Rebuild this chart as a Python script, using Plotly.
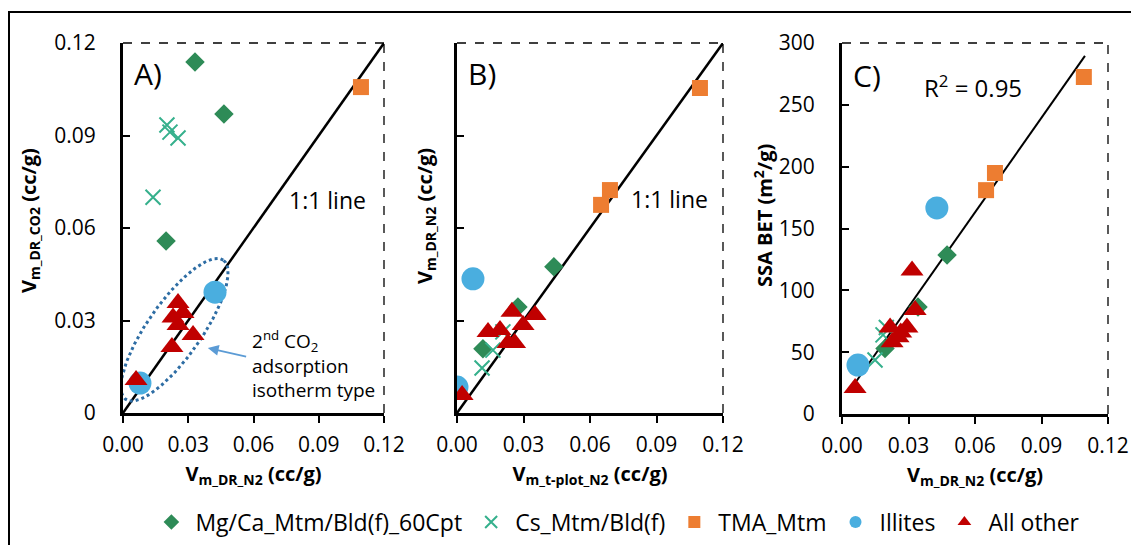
import numpy as np
import plotly.graph_objects as go

W, H = 1131, 545

# ---------------- Data ----------------
series_names = ["Mg/Ca_Mtm/Bld(f)_60Cpt", "Cs_Mtm/Bld(f)", "TMA_Mtm", "Illites", "All other"]

# Panel A: x = Vm_DR_N2, y = Vm_DR_CO2
a_mg_x = [0.0331, 0.0464, 0.0198]
a_mg_y = [0.1138, 0.0970, 0.0558]
a_cs_x = [0.0202, 0.0216, 0.0253, 0.0138]
a_cs_y = [0.0934, 0.0911, 0.0892, 0.0700]
a_tma_x = [0.1094]
a_tma_y = [0.1057]
a_ill_x = [0.0423, 0.0078]
a_ill_y = [0.0392, 0.0097]
a_oth_x = [0.0253, 0.0230, 0.0276, 0.0253, 0.0322, 0.0225, 0.0060]
a_oth_y = [0.0357, 0.0310, 0.0324, 0.0285, 0.0253, 0.0214, 0.0107]

# Panel B: x = Vm_t-plot_N2, y = Vm_DR_N2
b_mg_x = [0.0437, 0.0275, 0.0117]
b_mg_y = [0.0474, 0.0344, 0.0208]
b_cs_x = [0.0113, 0.0162, 0.0207]
b_cs_y = [0.0146, 0.0204, 0.0263]
b_tma_x = [0.1096, 0.0690, 0.0650]
b_tma_y = [0.1054, 0.0723, 0.0675]
b_ill_x = [0.0072, 0.0000]
b_ill_y = [0.0435, 0.0084]
b_oth_x = [0.0023, 0.0248, 0.0352, 0.0298, 0.0140, 0.0194, 0.0230, 0.0260]
b_oth_y = [0.0058, 0.0328, 0.0318, 0.0285, 0.0263, 0.0269, 0.0227, 0.0227]

# Panel C: x = Vm_DR_N2, y = SSA BET
c_mg_x = [0.0474, 0.0343, 0.0194]
c_mg_y = [128.6, 86.5, 53.0]
c_cs_x = [0.0149, 0.0185, 0.0200]
c_cs_y = [43.7, 64.0, 70.0]
c_tma_x = [0.1091, 0.0690, 0.0650]
c_tma_y = [272.5, 194.9, 181.0]
c_ill_x = [0.0428, 0.0072]
c_ill_y = [166.6, 39.6]
c_oth_x = [0.0059, 0.0316, 0.0330, 0.0217, 0.0293, 0.0253, 0.0226, 0.0265]
c_oth_y = [21.0, 116.0, 84.0, 70.0, 70.0, 62.0, 58.0, 66.0]

# regression line (panel C) endpoints in x and fitted coefficients
c_fit_x = [0.0059, 0.1096]
c_fit_slope = 2551.0
c_fit_intercept = 10.0

x_ticks = [0.00, 0.03, 0.06, 0.09, 0.12]
x_tick_labels = ["0.00", "0.03", "0.06", "0.09", "0.12"]
ya_ticks = [0, 0.03, 0.06, 0.09, 0.12]
ya_tick_labels = ["0", "0.03", "0.06", "0.09", "0.12"]
yc_ticks = [0, 50, 100, 150, 200, 250, 300]

# ---------------- Styles ----------------
C_MG = "#2E8B57"
C_CS = "#35B08C"
C_TMA = "#ED7D31"
C_ILL = "#4AAEDF"
C_OTH = "#C00000"
FONT = "Open Sans"

styles = [
    dict(symbol="diamond", color=C_MG, size=15),
    dict(symbol="x-thin", color=C_CS, size=15),
    dict(symbol="square", color=C_TMA, size=16),
    dict(symbol="circle", color=C_ILL, size=23),
    dict(symbol="triangle-up", color=C_OTH, size=20),
]


def marker(i):
    s = styles[i]
    if s["symbol"] == "x-thin":
        return dict(symbol="x-thin", size=s["size"], color=s["color"],
                    line=dict(color=s["color"], width=2))
    return dict(symbol=s["symbol"], size=s["size"], color=s["color"], line=dict(width=0))


fig = go.Figure()

panels = [
    ("x", "y", [(a_mg_x, a_mg_y), (a_cs_x, a_cs_y), (a_tma_x, a_tma_y), (a_ill_x, a_ill_y), (a_oth_x, a_oth_y)]),
    ("x2", "y2", [(b_mg_x, b_mg_y), (b_cs_x, b_cs_y), (b_tma_x, b_tma_y), (b_ill_x, b_ill_y), (b_oth_x, b_oth_y)]),
    ("x3", "y3", [(c_mg_x, c_mg_y), (c_cs_x, c_cs_y), (c_tma_x, c_tma_y), (c_ill_x, c_ill_y), (c_oth_x, c_oth_y)]),
]

# reference lines first (under markers)
for xa, ya in [("x", "y"), ("x2", "y2")]:
    fig.add_trace(go.Scatter(x=[0, 0.12], y=[0, 0.12], mode="lines",
                             line=dict(color="black", width=2.5),
                             xaxis=xa, yaxis=ya, showlegend=False, hoverinfo="skip"))
fit_y = [c_fit_slope * v + c_fit_intercept for v in c_fit_x]
fig.add_trace(go.Scatter(x=c_fit_x, y=fit_y, mode="lines",
                         line=dict(color="black", width=2),
                         xaxis="x3", yaxis="y3", showlegend=False, hoverinfo="skip"))

# ellipse for panel A (dotted), computed in pixel space then converted to data
px_per_x = (384 - 123) / 0.12
px_per_y = (413 - 43) / 0.12
cx, cy = 0.0237, 0.0270
a_len, b_len = 85.0, 27.0
theta = np.deg2rad(55)
t = np.linspace(0, 2 * np.pi, 200)
ex_px = a_len * np.cos(t) * np.cos(theta) - b_len * np.sin(t) * np.sin(theta)
ey_px = a_len * np.cos(t) * np.sin(theta) + b_len * np.sin(t) * np.cos(theta)
fig.add_trace(go.Scatter(x=cx + ex_px / px_per_x, y=cy + ey_px / px_per_y, mode="lines",
                         line=dict(color="#2E6DA4", width=3, dash="dot"),
                         xaxis="x", yaxis="y", showlegend=False, hoverinfo="skip"))

for pi, (xa, ya, data) in enumerate(panels):
    for si, (xs, ys) in enumerate(data):
        fig.add_trace(go.Scatter(x=xs, y=ys, mode="markers", marker=marker(si),
                                 name=series_names[si], legendgroup=series_names[si],
                                 showlegend=(pi == 0), xaxis=xa, yaxis=ya))

def dom_x(a, b):
    return [a / W, b / W]

def dom_y(top, bottom):
    return [1 - bottom / H, 1 - top / H]

tickfont = dict(family=FONT, size=21, color="black")
titlefont = dict(family=FONT, size=20, color="black")

common_x = dict(range=[0, 0.12], tickvals=x_ticks, ticktext=x_tick_labels,
                showline=True, linecolor="black", linewidth=3, mirror=False,
                ticks="outside", ticklen=7, tickwidth=2, tickcolor="black",
                showgrid=False, zeroline=False, tickfont=tickfont, fixedrange=True,
                automargin=False, ticklabelstandoff=4)
common_y = dict(showline=True, linecolor="black", linewidth=3,
                ticks="inside", ticklen=7, tickwidth=2, tickcolor="black",
                showgrid=False, zeroline=False, tickfont=tickfont, fixedrange=True,
                automargin=False, ticklabelstandoff=20)

fig.update_layout(
    width=W, height=H,
    margin=dict(l=0, r=0, t=0, b=0, autoexpand=False),
    paper_bgcolor="white", plot_bgcolor="white",
    font=dict(family=FONT, color="black"),
    xaxis=dict(domain=dom_x(123, 384), anchor="y",
               title=dict(text="<b>V<sub>m_DR_N2</sub> (cc/g)</b>", font=titlefont, standoff=10),
               **common_x),
    yaxis=dict(domain=dom_y(43, 413), anchor="x", range=[0, 0.12],
               tickvals=ya_ticks, ticktext=ya_tick_labels, **common_y),
    xaxis2=dict(domain=dom_x(457, 723), anchor="y2",
                title=dict(text="<b>V<sub>m_t-plot_N2</sub> (cc/g)</b>", font=titlefont, standoff=10),
                **common_x),
    yaxis2=dict(domain=dom_y(43, 413), anchor="x2", range=[0, 0.12],
                tickvals=ya_ticks, showticklabels=False, **common_y),
    xaxis3=dict(domain=dom_x(842, 1108), anchor="y3",
                title=dict(text="<b>V<sub>m_DR_N2</sub> (cc/g)</b>", font=titlefont, standoff=10),
                **common_x),
    yaxis3=dict(domain=dom_y(43, 414), anchor="x3", range=[0, 300],
                tickvals=yc_ticks, **common_y),
    legend=dict(orientation="h", x=0.545, xanchor="center", y=1 - 522 / H, yanchor="middle",
                font=dict(family=FONT, size=23, color="black"),
                itemsizing="constant", bgcolor="rgba(0,0,0,0)", traceorder="normal",
                itemwidth=38),
    showlegend=True,
)

# y-axis titles as rotated annotations (precise placement)
ytitles = [
    (30, 221, "<b>V<sub>m_DR_CO2</sub> (cc/g)</b>"),
    (425, 216, "<b>V<sub>m_DR_N2</sub> (cc/g)</b>"),
    (763, 216, "<b>SSA BET (m<sup>2</sup>/g)</b>"),
]
for px, py, txt in ytitles:
    fig.add_annotation(x=px / W, y=1 - py / H, xref="paper", yref="paper", text=txt,
                       textangle=-90, showarrow=False, xanchor="center", yanchor="middle",
                       font=titlefont)

# dashed top/right frame lines for each panel
for xd, yd in [(dom_x(123, 384), dom_y(43, 413)), (dom_x(457, 723), dom_y(43, 413)),
               (dom_x(842, 1108), dom_y(43, 414))]:
    fig.add_shape(type="line", xref="paper", yref="paper", x0=xd[0], x1=xd[1], y0=yd[1], y1=yd[1],
                  line=dict(color="black", width=1.3, dash="dash"))
    fig.add_shape(type="line", xref="paper", yref="paper", x0=xd[1], x1=xd[1], y0=yd[0], y1=yd[1],
                  line=dict(color="black", width=1.3, dash="dash"))

# outer frame
fig.add_shape(type="rect", xref="paper", yref="paper", x0=9 / W, x1=1.05, y0=-0.05, y1=1 - 12 / H,
              line=dict(color="black", width=2), fillcolor="rgba(0,0,0,0)", layer="below")

ann_font = dict(family=FONT, size=30, color="black")
line_font = dict(family=FONT, size=23, color="black")
anns = [
    dict(x=0.004, y=0.1102, xref="x", yref="y", text="A)", font=ann_font),
    dict(x=0.004, y=0.1102, xref="x2", yref="y2", text="B)", font=ann_font),
    dict(x=0.004, y=274, xref="x3", yref="y3", text="C)", font=ann_font),
    dict(x=0.0755, y=0.0690, xref="x", yref="y", text="1:1 line", font=line_font),
    dict(x=0.0775, y=0.0693, xref="x2", yref="y2", text="1:1 line", font=line_font),
    dict(x=0.0362, y=265, xref="x3", yref="y3", text="R<sup>2</sup> = 0.95", font=dict(family=FONT, size=24, color="black")),
    dict(x=0.0585, y=0.0158, xref="x", yref="y",
         text="2<sup>nd</sup> CO<sub>2</sub><br>adsorption<br>isotherm type",
         font=dict(family=FONT, size=19, color="black"), align="left"),
]
for a in anns:
    fig.add_annotation(showarrow=False, xanchor="left", yanchor="middle", **a)

# arrow pointing to ellipse
fig.add_annotation(x=0.0390, y=0.0211, xref="x", yref="y", ax=0.0573, ay=0.0182,
                   axref="x", ayref="y", text="", showarrow=True, arrowhead=2,
                   arrowsize=1.2, arrowwidth=1.8, arrowcolor="#5B9BD5")

fig.write_html("out.html", config={"displayModeBar": False},
               post_script="document.body.style.margin='0';document.body.style.overflow='hidden';")
